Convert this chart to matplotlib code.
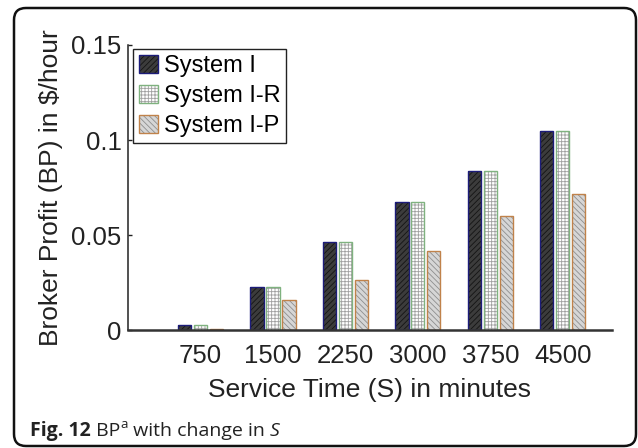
import matplotlib
matplotlib.use("Agg")
import matplotlib.pyplot as plt
import numpy as np
from matplotlib.patches import FancyBboxPatch, Patch
from matplotlib.transforms import IdentityTransform

# broker profit (BP, $/hour) for each service time S (minutes)
service_time = ["750", "1500", "2250", "3000", "3750", "4500"]
bp_system_i = [0.0025, 0.0225, 0.0465, 0.0672, 0.0836, 0.1045]
bp_system_ir = [0.0025, 0.0225, 0.0465, 0.0672, 0.0836, 0.1045]
bp_system_ip = [0.0005, 0.0158, 0.0262, 0.0418, 0.0598, 0.0718]
series_names = ["System I", "System I-R", "System I-P"]

STYLE = [   # face, hatch, hatch colour, outline
    ("#3c3c3c", "//////", "#141414", "#1c1c7a"),
    ("#ffffff", "+++++", "#a0a0a0", "#7fb27f"),
    ("#d6d6d6", "\\\\\\\\\\\\", "#8e8e8e", "#c0824a"),
]

plt.rcParams["font.family"] = ["Liberation Sans", "DejaVu Sans"]
plt.rcParams["hatch.linewidth"] = 0.6

W, H = 638, 448
fig = plt.figure(figsize=(W / 100, H / 100), dpi=100)
ax = fig.add_axes([128 / W, 1 - 330 / H, 484 / W, 285 / H])

x = np.arange(1, len(service_time) + 1)
width = 0.184
offsets = [-0.22, 0.0, 0.22]
handles = []
for vals, off, name, (face, hatch, hcol, edge) in zip(
        [bp_system_i, bp_system_ir, bp_system_ip], offsets, series_names, STYLE):
    # hatch layer first, then a plain outline on top in the series colour
    ax.bar(x + off, vals, width, color=face, hatch=hatch, edgecolor=hcol,
           linewidth=0, zorder=2)
    ax.bar(x + off, vals, width, fill=False, edgecolor=edge, linewidth=1.0,
           zorder=3)
    handles.append((Patch(facecolor=face, hatch=hatch, edgecolor=hcol, lw=0),
                    Patch(fill=False, edgecolor=edge, lw=1.0)))

ax.set_xlim(0, 6.68)
ax.set_ylim(0, 0.15)
ax.set_yticks([0, 0.05, 0.1, 0.15])
ax.set_yticklabels(["0", "0.05", "0.1", "0.15"])
ax.set_xticks(x)
ax.set_xticklabels(service_time)
ax.tick_params(axis="y", direction="in", length=3, width=1, pad=4.5,
               labelsize=18.5, colors="#222222")
ax.tick_params(axis="x", length=0, pad=10, labelsize=18.5, colors="#222222")
for side in ("top", "right"):
    ax.spines[side].set_visible(False)
ax.spines["left"].set_linewidth(1.1)
ax.spines["left"].set_color("#222222")
ax.spines["bottom"].set_linewidth(1.8)
ax.spines["bottom"].set_color("#333333")
ax.spines["bottom"].set_zorder(4)

ax.set_xlabel("Service Time (S) in minutes", fontsize=19, color="#222222")
ax.set_ylabel("Broker Profit (BP) in $/hour", fontsize=19, color="#222222")
ax.xaxis.set_label_coords(0.5, -0.17)
ax.yaxis.set_label_coords(-0.135, 0.5)

leg = ax.legend(handles, series_names, loc="upper left",
                bbox_to_anchor=(0.01, 0.985), borderaxespad=0,
                fontsize=17, frameon=True, fancybox=False, framealpha=1,
                edgecolor="#222222", handlelength=0.8, handleheight=0.8,
                handletextpad=0.25, labelspacing=0.32, borderpad=0.25)
leg.get_frame().set_linewidth(1.0)

# rounded frame around the figure and caption
frame = FancyBboxPatch((14, 2), 622, 438, boxstyle="round,pad=0,rounding_size=12",
                       fill=False, edgecolor="#111111", linewidth=1.8,
                       transform=IdentityTransform())
fig.add_artist(frame)

# caption pieces share one baseline, each placed after the previous one
cap_font = ["Open Sans", "DejaVu Sans"]
cap_y = 1 - 436 / H
common = dict(family=cap_font, color="#222222", va="baseline",
              annotation_clip=False)
t = fig.text(30 / W, cap_y, "Fig. 12", fontsize=14, fontweight="bold",
             family=cap_font, color="#222222", va="baseline")
t = ax.annotate(" BP", xy=(1, cap_y), xycoords=(t, "figure fraction"),
                fontsize=14, **common)
t = ax.annotate("a", xy=(1, cap_y + 8 / H), xycoords=(t, "figure fraction"),
                fontsize=9.5, **common)
t = ax.annotate(" with change in ", xy=(1, cap_y),
                xycoords=(t, "figure fraction"), fontsize=14, **common)
ax.annotate("S", xy=(1, cap_y), xycoords=(t, "figure fraction"),
            fontsize=14, style="italic", **common)

fig.savefig("out.png", dpi=100)
